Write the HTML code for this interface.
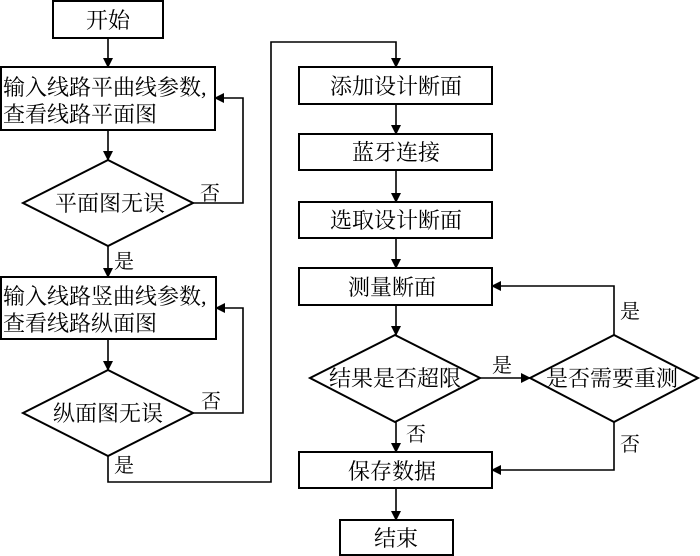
<!DOCTYPE html>
<html><head><meta charset="utf-8"><style>
html,body{margin:0;padding:0;background:#fff;}
svg{display:block;}
text{font-family:"Liberation Serif","Noto Serif CJK SC",serif;fill:#000;}
</style></head><body>
<svg width="700" height="556" viewBox="0 0 700 556" xmlns="http://www.w3.org/2000/svg">
<defs><marker id="a" markerWidth="10" markerHeight="10" refX="9" refY="5" orient="auto" markerUnits="userSpaceOnUse"><path d="M0,0 L10,5 L0,10 z" fill="#000"/></marker></defs>
<g fill="none" stroke="#000" stroke-width="2">
<rect x="53" y="1" width="110" height="37"/>
<rect x="1" y="67" width="214" height="63"/>
<polygon points="23,203 108,160 193,203 108,246"/>
<rect x="1" y="277" width="215" height="62"/>
<polygon points="23,413 108,370 193,413 108,456"/>
<rect x="299" y="67" width="193" height="37"/>
<rect x="299" y="134" width="193" height="36"/>
<rect x="299" y="202" width="193" height="36"/>
<rect x="299" y="268" width="193" height="37"/>
<polygon points="310,378 395,335 480,378 395,422"/>
<polygon points="530,378 614,335 698,378 614,422"/>
<rect x="299" y="452" width="193" height="36"/>
<rect x="340" y="520" width="113" height="35"/>
</g>
<g fill="none" stroke="#000" stroke-width="1.6" marker-end="url(#a)">
<line x1="108" y1="38" x2="108" y2="67"/>
<line x1="108" y1="130" x2="108" y2="160"/>
<polyline points="193,203 243,203 243,98 215,98"/>
<line x1="108" y1="246" x2="108" y2="277"/>
<line x1="108" y1="339" x2="108" y2="370"/>
<polyline points="193,413 243,413 243,308 216,308"/>
<polyline points="108,456 108,482 271,482 271,42 396,42 396,67"/>
<line x1="396" y1="104" x2="396" y2="134"/>
<line x1="396" y1="170" x2="396" y2="202"/>
<line x1="396" y1="238" x2="396" y2="268"/>
<line x1="396" y1="305" x2="396" y2="335"/>
<line x1="480" y1="378" x2="530" y2="378"/>
<polyline points="614,335 614,286 492,286"/>
<line x1="396" y1="422" x2="396" y2="452"/>
<polyline points="614,422 614,470 492,470"/>
<line x1="396" y1="488" x2="396" y2="520"/>
</g>
<g font-size="22">
<text x="108" y="28" text-anchor="middle">开始</text>
<text x="3" y="95">输入线路平曲线参数,</text>
<text x="3" y="122">查看线路平面图</text>
<text x="110" y="211" text-anchor="middle">平面图无误</text>
<text x="3" y="304">输入线路竖曲线参数,</text>
<text x="3" y="331">查看线路纵面图</text>
<text x="108" y="421" text-anchor="middle">纵面图无误</text>
<text x="396" y="94" text-anchor="middle">添加设计断面</text>
<text x="396" y="160" text-anchor="middle">蓝牙连接</text>
<text x="396" y="228" text-anchor="middle">选取设计断面</text>
<text x="392" y="295" text-anchor="middle">测量断面</text>
<text x="395" y="386" text-anchor="middle">结果是否超限</text>
<text x="612" y="386" text-anchor="middle">是否需要重测</text>
<text x="392" y="479" text-anchor="middle">保存数据</text>
<text x="396" y="546" text-anchor="middle">结束</text>
</g>
<g font-size="20">
<text x="200" y="250" transform="translate(0,-50)">否</text>
<text x="114" y="268">是</text>
<text x="201" y="408">否</text>
<text x="114" y="472">是</text>
<text x="492" y="372">是</text>
<text x="620" y="318">是</text>
<text x="406" y="441">否</text>
<text x="620" y="451">否</text>
</g>
</svg>
</body></html>
